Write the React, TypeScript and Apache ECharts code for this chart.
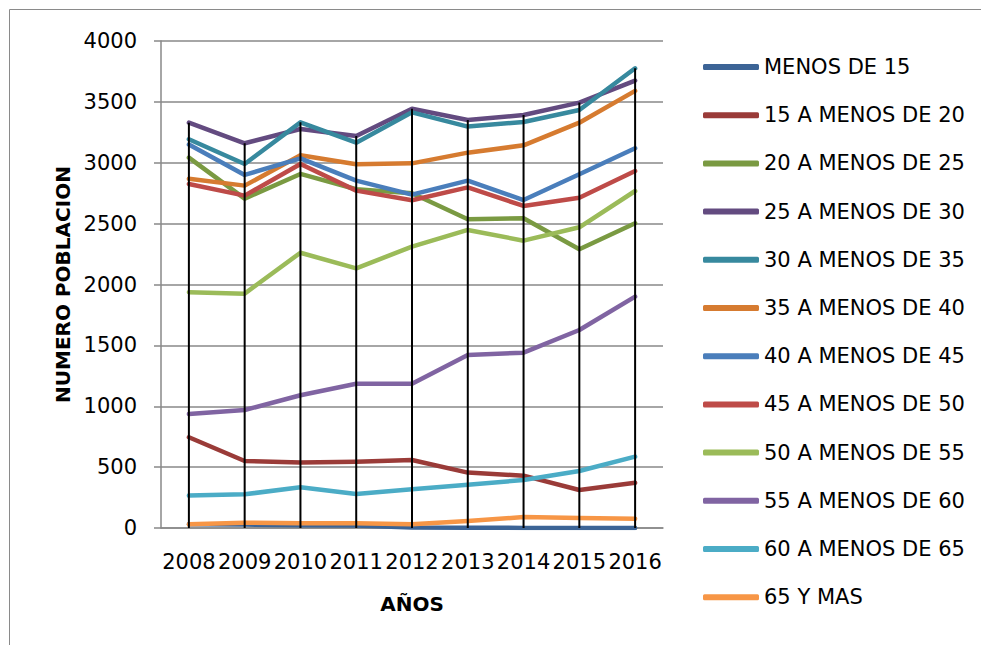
import React, { useEffect, useRef } from "react";
import * as echarts from "echarts";

const years = ["2008", "2009", "2010", "2011", "2012", "2013", "2014", "2015", "2016"];
const yTicks = { min: 0, max: 4000, interval: 500 };

const seriesNames = [
  "MENOS DE 15",
  "15 A MENOS DE 20",
  "20 A MENOS DE 25",
  "25 A MENOS DE 30",
  "30 A MENOS DE 35",
  "35 A MENOS DE 40",
  "40 A MENOS DE 45",
  "45 A MENOS DE 50",
  "50 A MENOS DE 55",
  "55 A MENOS DE 60",
  "60 A MENOS DE 65",
  "65 Y MAS",
];

const menos15 = [30, 28, 22, 20, 5, 2, 1, 1, 1];
const de15a20 = [745, 550, 537, 545, 559, 455, 430, 312, 372];
const de20a25 = [3042, 2705, 2908, 2782, 2750, 2536, 2544, 2289, 2503];
const de25a30 = [3329, 3160, 3277, 3220, 3444, 3351, 3392, 3494, 3675];
const de30a35 = [3193, 2990, 3332, 3165, 3414, 3297, 3335, 3433, 3776];
const de35a40 = [2869, 2812, 3061, 2987, 2995, 3083, 3143, 3329, 3590];
const de40a45 = [3150, 2900, 3036, 2853, 2738, 2853, 2694, 2905, 3119];
const de45a50 = [2826, 2730, 2990, 2771, 2692, 2798, 2645, 2713, 2932];
const de50a55 = [1936, 1925, 2261, 2133, 2311, 2448, 2360, 2470, 2768];
const de55a60 = [936, 969, 1090, 1185, 1185, 1421, 1440, 1626, 1900];
const de60a65 = [266, 277, 334, 279, 318, 356, 394, 468, 586];
const de65mas = [30, 44, 38, 40, 30, 57, 90, 82, 77];

const seriesValues = [
  menos15, de15a20, de20a25, de25a30, de30a35, de35a40,
  de40a45, de45a50, de50a55, de55a60, de60a65, de65mas,
];

const colors = [
  "#3C6496", "#9A3B38", "#7A9A42", "#634B80", "#37899E", "#D67B30",
  "#4A7EBB", "#BE4B48", "#9BBB59", "#8064A2", "#4BACC6", "#F79646",
];

const FONT = "DejaVu Sans";
const GRAY = "#898989";

export default function App() {
  const ref = useRef<HTMLDivElement>(null);
  useEffect(() => {
    if (!ref.current) return;
    const chart = echarts.init(ref.current, undefined, { renderer: "svg" });
    const dropTops = years.map((_, i) => Math.max(...seriesValues.map((s) => s[i])));
    const lineSeries = seriesNames.map((name, k) => ({
      name,
      type: "line",
      data: seriesValues[k],
      showSymbol: false,
      symbol: "none",
      color: colors[k],
      lineStyle: { width: 4.5, color: colors[k], cap: "round", join: "round" },
      z: 2,
    }));
    chart.setOption({
      animation: false,
      backgroundColor: "#ffffff",
      grid: { left: 161, right: 318, top: 41, bottom: 117, containLabel: false },
      legend: {
        orient: "vertical",
        left: 703,
        top: 56,
        padding: 0,
        data: seriesNames,
        icon: "roundRect",
        itemWidth: 56,
        itemHeight: 6,
        itemGap: 26.2,
        textStyle: { fontFamily: FONT, fontSize: 21, color: "#000", lineHeight: 22 },
      },
      xAxis: {
        type: "category",
        data: years,
        boundaryGap: true,
        name: "AÑOS",
        nameLocation: "middle",
        nameGap: 66,
        nameTextStyle: { fontFamily: FONT, fontSize: 20, fontWeight: "bold", color: "#000" },
        axisLine: { show: true, lineStyle: { color: GRAY, width: 1.5 } },
        axisTick: { show: false },
        axisLabel: {
          interval: 0,
          margin: 23,
          fontFamily: FONT,
          fontSize: 21,
          color: "#000",
          lineHeight: 22,
        },
        splitLine: { show: false },
      },
      yAxis: {
        type: "value",
        min: yTicks.min,
        max: yTicks.max,
        interval: yTicks.interval,
        name: "NUMERO POBLACION",
        nameLocation: "middle",
        nameGap: 84,
        nameTextStyle: { fontFamily: FONT, fontSize: 20, fontWeight: "bold", color: "#000" },
        axisLine: { show: true, lineStyle: { color: GRAY, width: 1.5 } },
        axisTick: { show: true, length: 7, lineStyle: { color: GRAY, width: 1.5 } },
        axisLabel: {
          margin: 24,
          fontFamily: FONT,
          fontSize: 21,
          color: "#000",
          formatter: (v: number) => String(v),
        },
        splitLine: { show: true, lineStyle: { color: GRAY, width: 1.5 } },
      },
      graphic: [
        {
          type: "rect",
          shape: { x: 9.5, y: 9.5, width: 1000, height: 700 },
          style: { fill: "none", stroke: "#8a8a8a", lineWidth: 1 },
          silent: true,
          z: -10,
        },
      ],
      series: [
        ...lineSeries,
        {
          name: "dropLines",
          type: "bar",
          data: dropTops,
          barWidth: 2,
          itemStyle: { color: "#000000" },
          silent: true,
          z: 5,
        },
      ],
    });
    return () => chart.dispose();
  }, []);
  return (
    <div
      ref={ref}
      style={{ position: "absolute", left: 0, top: 0, width: 981, height: 645 }}
    />
  );
}
